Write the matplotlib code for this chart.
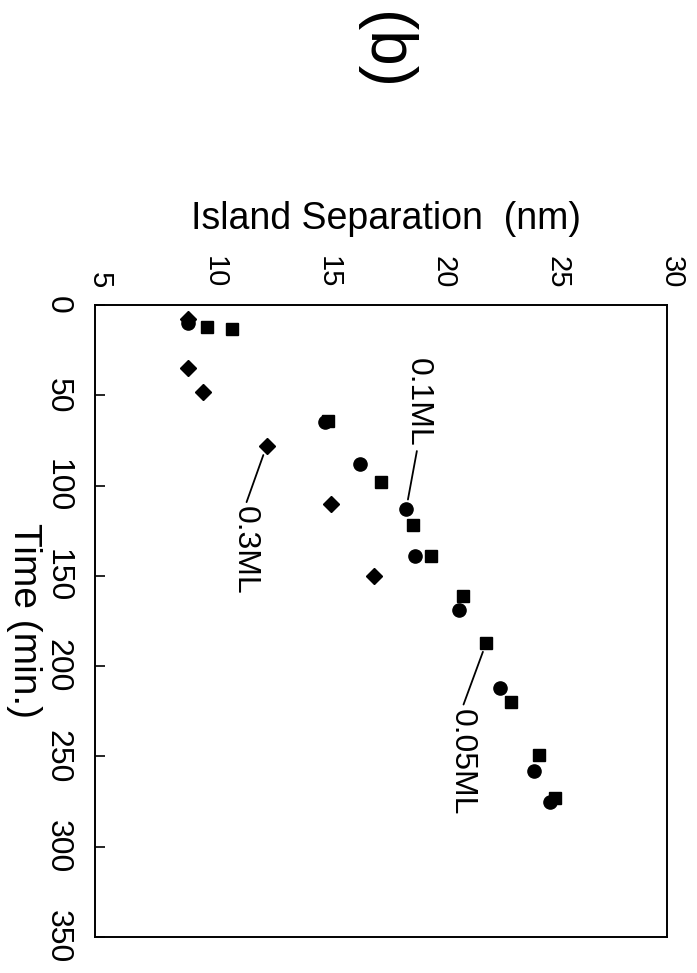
import matplotlib
matplotlib.use('Agg')
import matplotlib.pyplot as plt
import matplotlib.transforms as mtransforms

plt.rcParams['font.family'] = ['Liberation Sans', 'DejaVu Sans']

# island separation (nm) vs time (min) for three coverages
time_01 = [10, 65, 88, 113, 139, 169, 212, 258, 275]
sep_01 = [9.05, 15.05, 16.6, 18.6, 19.0, 20.9, 22.7, 24.2, 24.9]

time_005 = [12, 13, 64, 98, 122, 139, 161, 187, 220, 249, 273]
sep_005 = [9.9, 11.0, 15.2, 17.5, 18.9, 19.7, 21.1, 22.1, 23.2, 24.4, 25.1]

time_03 = [8, 35, 48, 78, 110, 150]
sep_03 = [9.05, 9.05, 9.7, 12.5, 15.3, 17.2]

time_ticks = [0, 50, 100, 150, 200, 250, 300, 350]
sep_ticks = [5, 10, 15, 20, 25, 30]

fig = plt.figure(figsize=(6.97, 9.73), dpi=100)
ax = fig.add_axes([0.1363, 0.037, 0.8207, 0.6495])

# figure is shown turned 90 deg clockwise: separation runs along the top, time down the left
ax.plot(sep_005, time_005, 's', color='black', ms=8.5, zorder=3)
ax.plot(sep_01, time_01, 'o', color='black', ms=9.5, zorder=3)
ax.plot(sep_03, time_03, 'D', color='black', ms=8.5, zorder=3)

ax.set_xlim(5, 30)
ax.set_ylim(350, 0)
ax.xaxis.tick_top()
ax.set_xticks(sep_ticks)
ax.set_yticks(time_ticks)
ax.set_xticklabels([str(v) for v in sep_ticks], rotation=-90, fontsize=21)
ax.set_yticklabels([str(v) for v in time_ticks], rotation=-90, fontsize=23, va='center')
ax.tick_params(axis='x', length=0, pad=12)
ax.tick_params(axis='y', direction='in', length=7, width=1.2, pad=16)
shift = mtransforms.ScaledTranslation(5 / 100, 0, fig.dpi_scale_trans)
for lab in ax.get_xticklabels():
    lab.set_transform(lab.get_transform() + shift)
for sp in ax.spines.values():
    sp.set_linewidth(1.4)

lab_kw = dict(rotation=-90, fontsize=23, ha='center', va='center')
ax.annotate('0.1ML', xy=(18.6, 113), xytext=(19.1, 54), textcoords='data',
            arrowprops=dict(arrowstyle='-', lw=1.3, color='black', relpos=(0.5, 0), shrinkA=1, shrinkB=7), **lab_kw)
ax.annotate('0.3ML', xy=(12.5, 78), xytext=(11.56, 136), textcoords='data',
            arrowprops=dict(arrowstyle='-', lw=1.3, color='black', relpos=(0.5, 1), shrinkA=1, shrinkB=7), **lab_kw)
ax.annotate('0.05ML', xy=(22.1, 187), xytext=(21.04, 253), textcoords='data',
            arrowprops=dict(arrowstyle='-', lw=1.3, color='black', relpos=(0.5, 1), shrinkA=1, shrinkB=7), **lab_kw)

fig.text(0.554, 0.775, 'Island Separation  (nm)', fontsize=27, ha='center', va='center')
fig.text(0.0344, 0.3618, 'Time (min.)', fontsize=28, rotation=-90, ha='center', va='center')
fig.text(0.551, 0.9476, '(b)', fontsize=46, rotation=-90, ha='center', va='center')

fig.savefig('out.png', dpi=100)
